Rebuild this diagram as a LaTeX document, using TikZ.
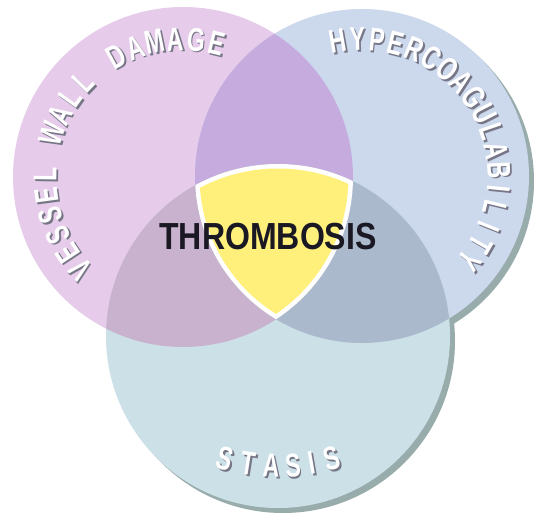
\documentclass[tikz,border=0pt]{standalone}
\usepackage{fontspec}
\newfontfamily\labfont[FakeStretch=0.7]{Liberation Sans}
\newfontfamily\thrfont[FakeStretch=0.85]{Liberation Sans}
\definecolor{pinkc}{HTML}{E6CCEA}
\definecolor{bluec}{HTML}{CCD8EC}
\definecolor{stasc}{HTML}{CCE0E8}
\definecolor{pbc}{HTML}{C6ACDE}
\definecolor{psc}{HTML}{C8B2CE}
\definecolor{bsc}{HTML}{AABACC}
\definecolor{shadc}{HTML}{98ACAC}
\definecolor{yelc}{HTML}{FFF07C}
\definecolor{txtsh}{HTML}{767686}
\definecolor{thrc}{HTML}{1A1822}
\begin{document}
\begin{tikzpicture}[x=1pt,y=1pt,
  lab/.style={font=\labfont\bfseries\fontsize{33}{35}\selectfont, text=white, inner sep=0pt},
  labsh/.style={font=\labfont\bfseries\fontsize{33}{35}\selectfont, text=txtsh, inner sep=0pt},
  thr/.style={font=\thrfont\bfseries\fontsize{37.7}{40}\selectfont, text=thrc, inner sep=0pt}]
\useasboundingbox (0,0) rectangle (535,515);
\fill[white] (0,0) rectangle (535,515);
\coordinate (P) at (183,338);
\coordinate (B) at (362,339);
\coordinate (S) at (278,179);
\coordinate (Psh) at (367,334);
\coordinate (Ssh) at (283,174);
\coordinate (SC) at (278.5,245);
% shadows
\fill[shadc] (Psh) circle (167);
\fill[shadc] (Ssh) circle (172);
% circles
\fill[pinkc] (P) circle (170);
\fill[bluec] (B) circle (167);
\fill[stasc] (S) circle (172);
% pairwise overlaps
\begin{scope}\clip (P) circle (170); \fill[pbc] (B) circle (167);\end{scope}
\begin{scope}\clip (P) circle (170); \fill[psc] (S) circle (172);\end{scope}
\begin{scope}\clip (B) circle (167); \fill[bsc] (S) circle (172);\end{scope}
% triple overlap
\begin{scope}\clip (P) circle (170); \clip (B) circle (167); \fill[white] (S) circle (172);\end{scope}
\begin{scope}\clip (P) circle (165.5); \clip (B) circle (162.5); \fill[yelc] (S) circle (167.5);\end{scope}
% labels
\foreach \ch/\k in {V/0,E/1,S/2,S/3,E/4,L/5,W/7,A/8,L/9,L/10,D/12,A/13,M/14,A/15,G/16,E/17}{
  \pgfmathsetmacro\ang{222-8.59*\k}
  \node[labsh, rotate=\ang-90] (ps\k) at ([shift={(\ang:138)},shift={(1.8,-1.8)}]P) {\ch};
  \node[lab, rotate=\ang-90] (pw\k) at ([shift={(\ang:138)}]P) {\ch};
}
\foreach \ch/\k in {H/0,Y/1,P/2,E/3,R/4,C/5,O/6,A/7,G/8,U/9,L/10,A/11,B/12,I/13,L/14,I/15,T/16,Y/17}{
  \pgfmathsetmacro\ang{100-8.12*\k}
  \node[labsh, rotate=\ang-90] (bs\k) at ([shift={(\ang:137)},shift={(1.8,-1.8)}]B) {\ch};
  \node[lab, rotate=\ang-90] (bw\k) at ([shift={(\ang:137)}]B) {\ch};
}
\foreach \ch/\p [count=\k] in {S/-15.8,T/-8.95,A/-2.19,S/4.24,I/9.84,S/15.8}{
  \node[labsh, rotate=\p] (ss\k) at ([shift={(270+\p:196)},shift={(1.8,-1.8)}]SC) {\ch};
  \node[lab, rotate=\p] (sw\k) at ([shift={(270+\p:196)}]SC) {\ch};
}
\node[thr] (thrombosis) at (268,278) {THROMBOSIS};
\end{tikzpicture}
\end{document}
